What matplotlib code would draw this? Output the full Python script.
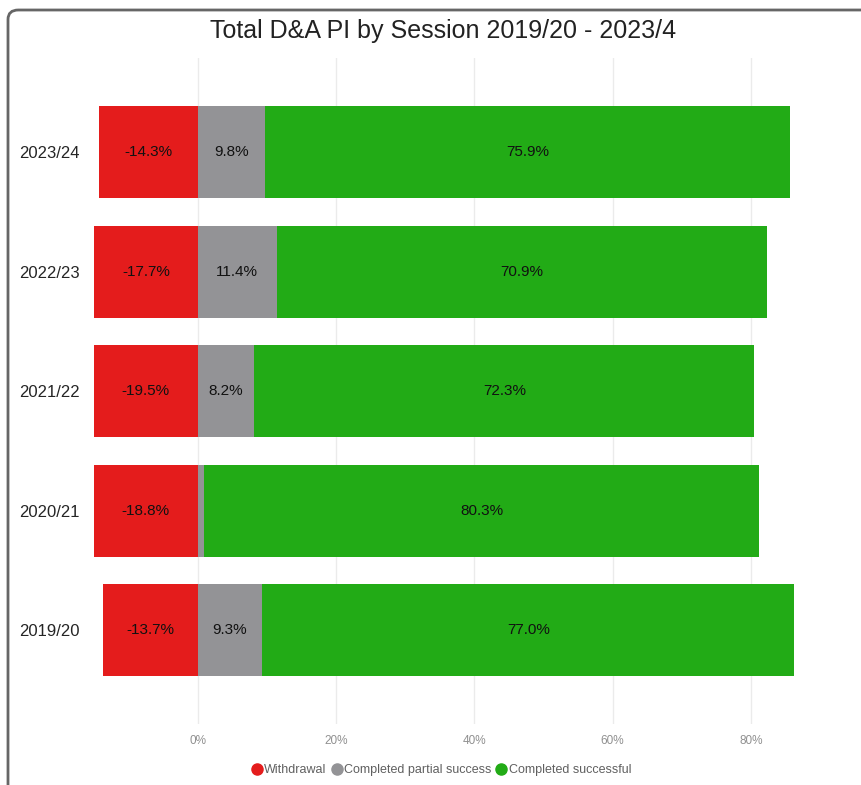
import matplotlib
matplotlib.use("Agg")
import matplotlib.pyplot as plt
from matplotlib.patches import FancyBboxPatch
from matplotlib.lines import Line2D

plt.rcParams['font.family'] = ['Liberation Sans', 'DejaVu Sans']

sessions = ["2019/20", "2020/21", "2021/22", "2022/23", "2023/24"]
withdrawal = [-13.7, -18.8, -19.5, -17.7, -14.3]
partial = [9.3, 0.9, 8.2, 11.4, 9.8]
successful = [77.0, 80.3, 72.3, 70.9, 75.9]
partial_labels = ["9.3%", "", "8.2%", "11.4%", "9.8%"]
xticks = [0, 20, 40, 60, 80]
xticklabels = ["0%", "20%", "40%", "60%", "80%"]
series_names = ["Withdrawal", "Completed partial success", "Completed successful"]
colors = ["#E41C1C", "#939396", "#22AB16"]

W, H = 862, 785
fig = plt.figure(figsize=(W / 100, H / 100), dpi=100)

# card border (rounded, open to right/bottom)
card = FancyBboxPatch((8 / W, -20 / H), 900 / W, (H - 10 + 20) / H,
                      boxstyle="round,pad=0,rounding_size=0.012",
                      transform=fig.transFigure, facecolor="white",
                      edgecolor="#666666", linewidth=2, zorder=-5)
fig.patches.append(card)

ax_left, ax_right = 94, 820
ax_top, ax_bottom = 58, 724
ax = fig.add_axes([ax_left / W, 1 - ax_bottom / H, (ax_right - ax_left) / W, (ax_bottom - ax_top) / H])
ax.set_facecolor("none")
ax.set_zorder(2)

y = list(range(len(sessions)))
h = 0.77
ax.barh(y, withdrawal, height=h, color=colors[0], zorder=2)
ax.barh(y, partial, height=h, left=0, color=colors[1], zorder=2)
ax.barh(y, successful, height=h, left=partial, color=colors[2], zorder=2)

xmin, xmax = -15.0, 90.0
for i in y:
    wx = (max(withdrawal[i], xmin) + 0) / 2
    ax.text(wx, i, f"{withdrawal[i]:.1f}%", ha="center", va="center", fontsize=11, color="#111111", zorder=3)
    if partial_labels[i]:
        ax.text(partial[i] / 2, i, partial_labels[i], ha="center", va="center", fontsize=11, color="#111111", zorder=3)
    ax.text(partial[i] + successful[i] / 2, i, f"{successful[i]:.1f}%", ha="center", va="center", fontsize=11, color="#111111", zorder=3)

ax.set_xlim(xmin, xmax)
ax.set_ylim(-0.785, 4.79)
ax.set_xticks(xticks)
ax.set_xticklabels(xticklabels, fontsize=8.5, color="#909090")
ax.set_yticks(y)
ax.set_yticklabels(sessions, fontsize=12, color="#252525")
ax.tick_params(axis="both", length=0)
ax.tick_params(axis="x", pad=8)
ax.tick_params(axis="y", pad=10)
for s in ax.spines.values():
    s.set_visible(False)
ax.grid(axis="x", color="#EBEBEB", linewidth=1, zorder=0)
ax.set_axisbelow(True)

fig.text(443 / W, 1 - 31 / H, "Total D&A PI by Session 2019/20 - 2023/4", ha="center", va="center",
         fontsize=18, color="#222222")

handles = [Line2D([0], [0], marker="o", linestyle="", markersize=8, markerfacecolor=c, markeredgecolor=c)
           for c in colors]
fig.legend(handles, series_names, loc="center", bbox_to_anchor=(441 / W, 1 - 770 / H), ncol=3,
           frameon=False, fontsize=9, labelcolor="#606060", handletextpad=0.1, columnspacing=0.3,
           handlelength=1.0)

fig.savefig("out.png", dpi=100)
